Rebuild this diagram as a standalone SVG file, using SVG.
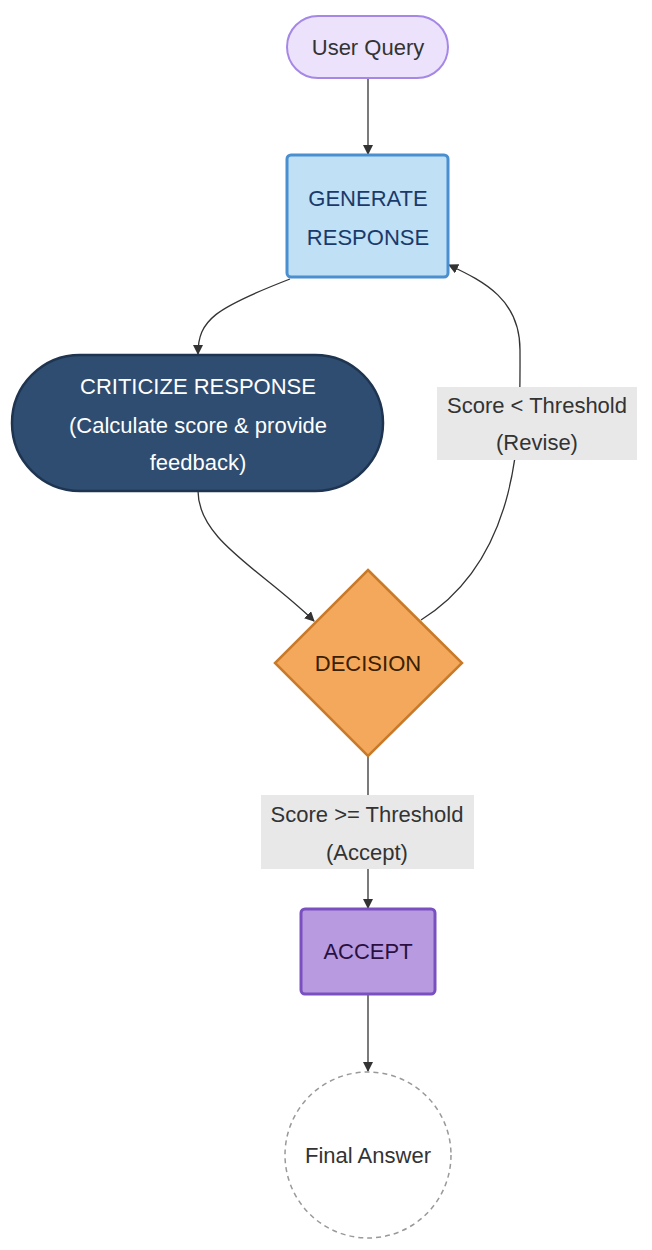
<svg xmlns="http://www.w3.org/2000/svg" width="652" height="1250" viewBox="0 0 652 1250">
<defs>
<marker id="ah" markerWidth="10" markerHeight="10" refX="9" refY="5" orient="auto" markerUnits="userSpaceOnUse"><path d="M0,0 L10,5 L0,10 z" fill="#333"/></marker>
<style>
text{font-family:"Liberation Sans",Arial,sans-serif;font-size:22px;text-anchor:middle;dominant-baseline:central}
.e{fill:none;stroke:#333;stroke-width:1.3;marker-end:url(#ah)}
.wm{font-size:16px;fill:#ddd}
</style>
</defs>
<rect width="652" height="1250" fill="#fff"/>
<g id="edges">
<path class="e" d="M368,78 L368,154"/>
<path class="e" d="M290,279 C215,308 198,320 198,354"/>
<path class="e" d="M198,491 C198,540 262,570 314,621"/>
<path class="e" d="M421,620 C525,555 520,420 520,350 C520,300 485,282 449,265"/>
<path class="e" d="M368,756 L368,908"/>
<path class="e" d="M368,994 L368,1071"/>
<rect x="437" y="387" width="200" height="73" fill="#e8e8e8"/>
<text x="537" y="405" fill="#333">Score &lt; Threshold</text>
<text x="537" y="442" fill="#333">(Revise)</text>
<rect x="261" y="795" width="213" height="74" fill="#e8e8e8"/>
<text x="367" y="814" fill="#333">Score &gt;= Threshold</text>
<text x="367" y="852" fill="#333">(Accept)</text>
</g>
<g id="userQuery">
<rect x="287" y="16" width="161" height="62" rx="31" fill="#ece2fb" stroke="#a587e6" stroke-width="2"/>
<text x="368" y="47" fill="#333">User Query</text>
</g>
<g id="generate">
<rect x="287" y="155" width="161" height="122" rx="4" fill="#bfe0f5" stroke="#4a8fd0" stroke-width="3"/>
<text x="368" y="198" fill="#1a3a6a">GENERATE</text>
<text x="368" y="237" fill="#1a3a6a">RESPONSE</text>
</g>
<g id="criticize">
<rect x="12" y="355" width="371" height="136" rx="68" fill="#2e4d70" stroke="#1e3450" stroke-width="2.5"/>
<text x="198" y="386" fill="#fff">CRITICIZE RESPONSE</text>
<text x="198" y="425" fill="#fff">(Calculate score &amp; provide</text>
<text x="198" y="462" fill="#fff">feedback)</text>
</g>
<g id="decision">
<polygon points="368,570 462,663 368,756 275,663" fill="#f4a85c" stroke="#c87a28" stroke-width="2.5"/>
<text x="368" y="663" fill="#3a2000">DECISION</text>
</g>
<g id="accept">
<rect x="301" y="909" width="134" height="85" rx="4" fill="#b89ae0" stroke="#7a50c0" stroke-width="3"/>
<text x="368" y="951" fill="#2a1040">ACCEPT</text>
</g>
<g id="final">
<circle cx="368" cy="1155" r="83" fill="#fff" stroke="#999" stroke-width="1.5" stroke-dasharray="5,4"/>
<text x="368" y="1155" fill="#333">Final Answer</text>
</g>
</svg>
